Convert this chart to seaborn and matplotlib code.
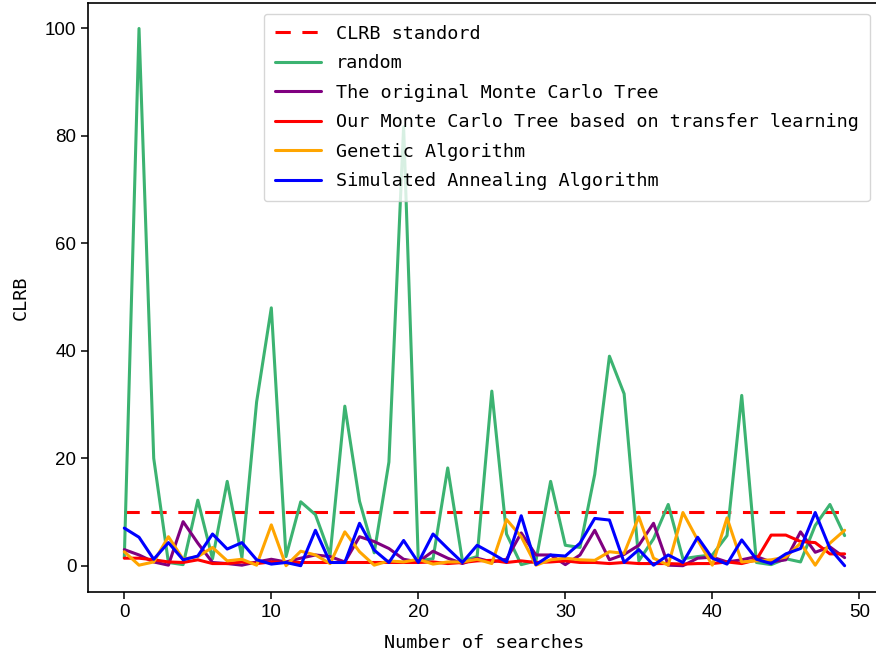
import numpy as np
import pandas as pd
import matplotlib
matplotlib.use('Agg')
import matplotlib.pyplot as plt
import seaborn as sns

# ---- data -------------------------------------------------------------------
searches = list(range(50))
clrb_standard = [10] * 50
random_search = [1.5, 100, 20, 0.6, 0.2, 12.2, 1.3, 15.7, 1.5, 30.5,
                 48, 1.7, 11.9, 9.5, 2.0, 29.7, 12, 2.4, 19.3, 81.7,
                 0.9, 1.3, 18.2, 0.9, 1.7, 32.5, 5.9, 0.2, 0.9, 15.7,
                 3.8, 3.4, 17, 39, 32, 0.9, 5.0, 11.4, 1.3, 1.7,
                 2.0, 5.6, 31.7, 0.6, 0.2, 1.3, 0.7, 7.5, 11.4, 5.6]
original_mct = [3.0, 2.0, 0.7, 0.1, 8.2, 4.2, 0.6, 0.4, 0.1, 0.7,
                1.2, 0.7, 1.4, 2.0, 1.7, 0.7, 5.4, 4.5, 3.2, 1.2,
                0.7, 2.7, 1.4, 0.4, 1.4, 0.7, 1.2, 6.1, 2.0, 2.0,
                0.2, 2.0, 6.6, 1.1, 2.1, 3.8, 7.9, 0.1, 0.0, 1.4,
                1.6, 0.7, 1.1, 1.7, 0.7, 1.1, 6.3, 2.5, 3.5, 1.5]
our_mct = [1.4, 1.4, 1.1, 0.7, 0.6, 1.1, 0.4, 0.4, 0.7, 0.4,
           0.7, 0.6, 0.6, 0.6, 0.6, 0.6, 0.6, 0.6, 0.6, 0.6,
           0.6, 0.7, 0.4, 0.6, 0.9, 1.0, 0.6, 0.9, 0.6, 0.7,
           0.9, 0.6, 0.6, 0.4, 0.6, 0.4, 0.4, 0.4, 0.3, 0.4,
           0.4, 0.7, 0.4, 1.1, 5.7, 5.7, 4.5, 4.3, 2.2, 2.2]
genetic = [2.6, 0.1, 0.7, 5.4, 1.2, 1.7, 3.4, 0.9, 1.2, 0.1,
           7.6, 0.0, 2.7, 2.0, 0.4, 6.3, 2.6, 0.1, 0.9, 0.7,
           1.2, 0.3, 0.7, 0.7, 1.2, 0.4, 8.6, 5.4, 0.1, 1.1,
           1.4, 1.1, 1.0, 2.6, 2.3, 9.1, 1.4, 0.1, 9.9, 4.8,
           0.1, 8.9, 0.7, 0.9, 1.1, 1.6, 4.2, 0.1, 4.2, 6.6]
annealing = [7.0, 5.3, 1.2, 4.3, 1.1, 1.8, 5.9, 3.1, 4.3, 1.1,
             0.3, 0.6, 0.0, 6.6, 0.6, 0.6, 7.9, 2.9, 0.6, 4.7,
             0.6, 5.9, 3.2, 0.6, 3.8, 2.3, 0.7, 9.3, 0.2, 2.0,
             1.8, 4.2, 8.8, 8.5, 0.6, 3.0, 0.1, 2.0, 0.6, 5.3,
             1.4, 0.3, 4.8, 1.2, 0.4, 2.2, 3.2, 9.9, 3.2, 0.0]

series = [
    ('CLRB standord', clrb_standard, 'red', (5.0, 3.8)),
    ('random', random_search, 'mediumseagreen', ''),
    ('The original Monte Carlo Tree', original_mct, 'purple', ''),
    ('Our Monte Carlo Tree based on transfer learning', our_mct, 'red', ''),
    ('Genetic Algorithm', genetic, 'orange', ''),
    ('Simulated Annealing Algorithm', annealing, 'blue', ''),
]

sns.set_style('ticks')
plt.rcParams['font.family'] = ['DejaVu Sans Mono', 'DejaVu Sans']
plt.rcParams['text.color'] = 'black'
plt.rcParams['axes.labelcolor'] = 'black'
plt.rcParams['xtick.color'] = 'black'
plt.rcParams['ytick.color'] = 'black'

fig = plt.figure(figsize=(8.76, 6.56), dpi=100)
ax = fig.add_axes([0.1008, 0.0971, 0.9045, 0.8988])

for name, vals, color, dash in series:
    df = pd.DataFrame({'x': searches, 'y': vals})
    sns.lineplot(data=df, x='x', y='y', ax=ax, color=color,
                 linewidth=2.2, label=name)
    if dash:
        ax.lines[-1].set_dashes(dash)

ax.set_xlabel('Number of searches', fontsize=13.3, labelpad=9)
ax.set_ylabel('CLRB', fontsize=13.3, labelpad=11)
ax.set_xticks([0, 10, 20, 30, 40, 50])
ax.set_yticks([0, 20, 40, 60, 80, 100])
ax.set_xlim(-2.45, 51.45)
ax.set_ylim(-4.95, 104.8)
for lbl in ax.get_xticklabels() + ax.get_yticklabels():
    lbl.set_family('Liberation Sans')
    lbl.set_fontsize(13.5)
ax.tick_params(length=5, width=1.1, color='black')
for sp in ax.spines.values():
    sp.set_color('black')
    sp.set_linewidth(1.2)

leg = ax.legend(loc='upper right', fontsize=13.3, handlelength=2.5,
                labelspacing=0.62, borderpad=0.6, borderaxespad=0.6)
leg.get_frame().set_edgecolor('#cccccc')

fig.savefig('out.png', dpi=100)
